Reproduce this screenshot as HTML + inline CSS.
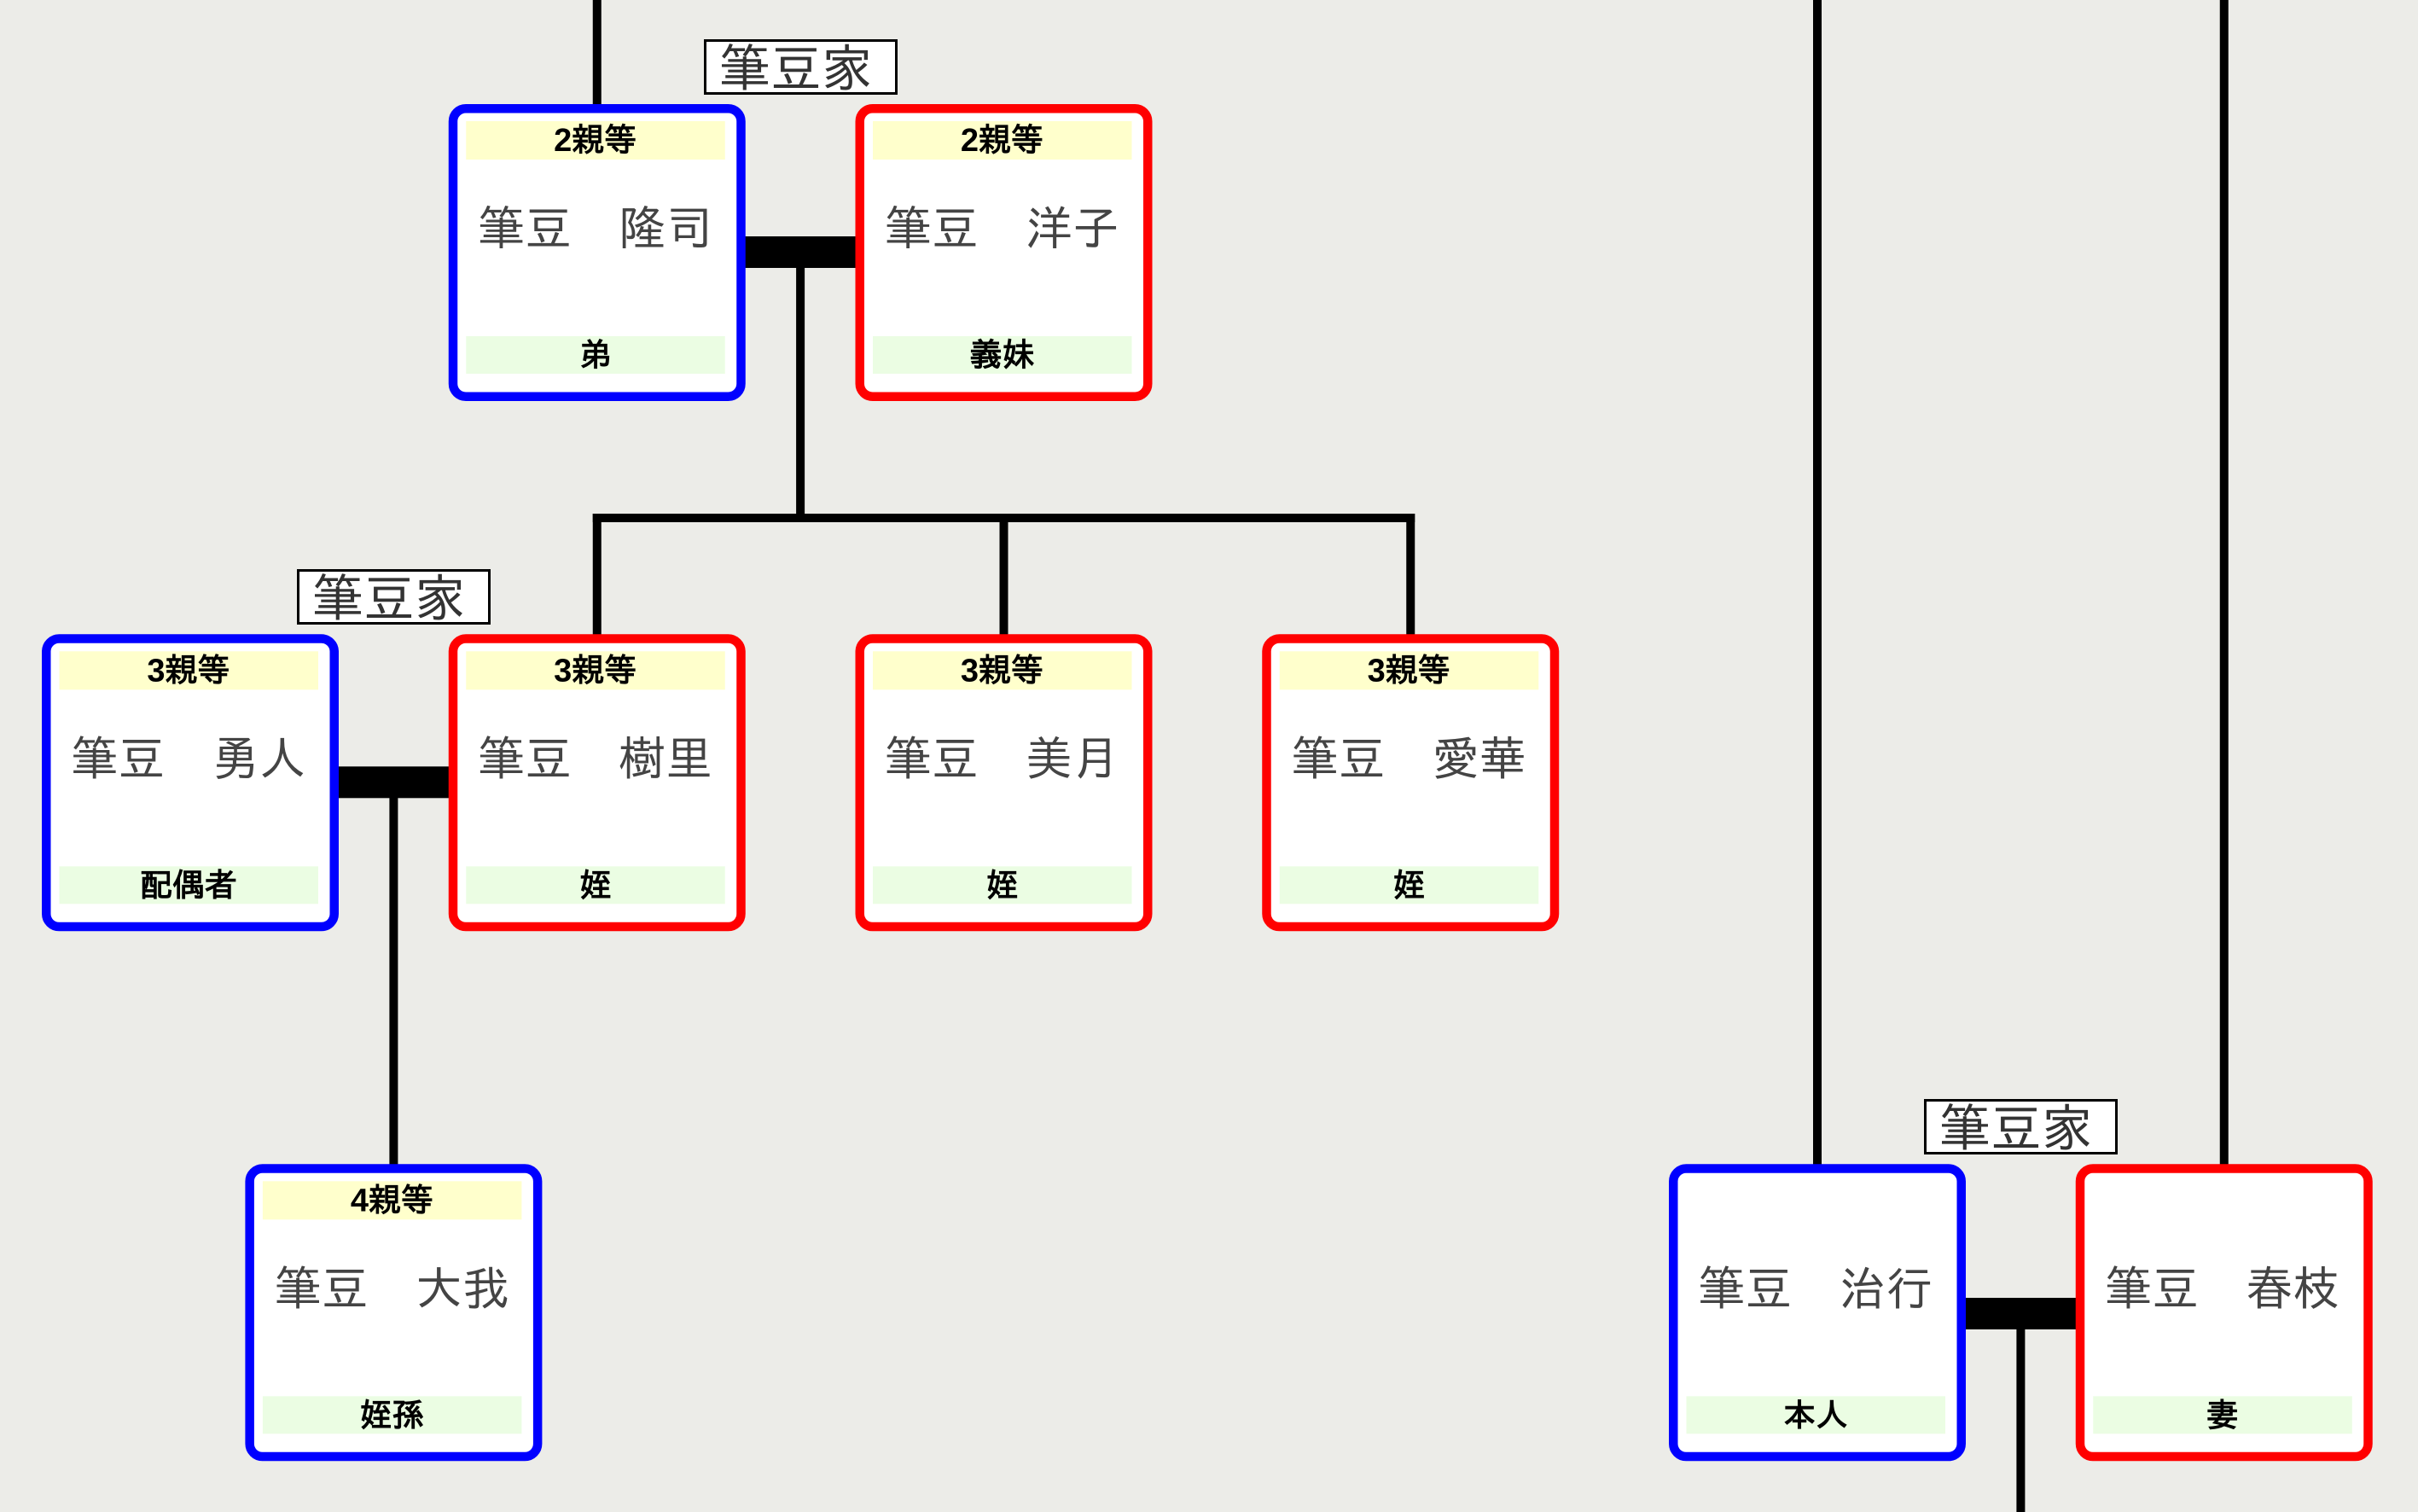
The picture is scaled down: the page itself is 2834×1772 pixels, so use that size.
<!DOCTYPE html>
<html><head><meta charset="utf-8">
<style>
html,body{margin:0;padding:0;background:#ecece8;}
svg{display:block;}
.nm{font-family:"Liberation Sans","IPAGothic","Noto Sans CJK JP",sans-serif;font-size:55px;fill:#444;}
.hd{font-family:"Liberation Sans","IPAGothic","Noto Sans CJK JP",sans-serif;font-size:38px;font-weight:bold;fill:#000;}
.lb{font-family:"Liberation Sans","IPAGothic","Noto Sans CJK JP",sans-serif;font-size:60px;fill:#333;}
</style></head>
<body>
<svg width="2834" height="1772" viewBox="0 0 2834 1772" xmlns="http://www.w3.org/2000/svg">
<rect x="0" y="0" width="2834" height="1772" fill="#ecece8"/>

<!-- connectors -->
<g fill="#000">
  <!-- row1 -->
  <rect x="694.75" y="0" width="10" height="125"/>
  <rect x="873" y="277" width="130" height="37"/>
  <rect x="933.1" y="312" width="10" height="300"/>
  <rect x="694.75" y="602" width="963.5" height="10"/>
  <rect x="694.75" y="602" width="10" height="144"/>
  <rect x="1171.5" y="602" width="10" height="144"/>
  <rect x="1648.25" y="602" width="10" height="144"/>
  <!-- row2 -->
  <rect x="396" y="898.3" width="131" height="37"/>
  <rect x="456.4" y="933" width="10" height="434"/>
  <!-- right -->
  <rect x="2125" y="0" width="10" height="1367"/>
  <rect x="2601.75" y="0" width="10" height="1367"/>
  <rect x="2303" y="1521" width="131" height="37"/>
  <rect x="2363.4" y="1556" width="10" height="216"/>
</g>

<!-- labels -->
<g>
  <rect x="826.5" y="47.5" width="224" height="62" fill="#fff" stroke="#000" stroke-width="3"/>
  <text class="lb" x="933" y="81" text-anchor="middle" dominant-baseline="central">筆豆家</text>
  <rect x="349.5" y="668.5" width="224" height="62" fill="#fff" stroke="#000" stroke-width="3"/>
  <text class="lb" x="456" y="702" text-anchor="middle" dominant-baseline="central">筆豆家</text>
  <rect x="2256.5" y="1289.5" width="224" height="62" fill="#fff" stroke="#000" stroke-width="3"/>
  <text class="lb" x="2363" y="1323" text-anchor="middle" dominant-baseline="central">筆豆家</text>
</g>

<!-- Row 1 -->
<g transform="translate(525.75,122)">
  <rect x="5.25" y="5.25" width="337.5" height="337.5" rx="15" fill="#fff" stroke="#0000ff" stroke-width="10.5"/>
  <rect x="20.5" y="20" width="303.5" height="45" fill="#ffffcc"/>
  <rect x="20.5" y="272" width="303.5" height="44" fill="#ebfde3"/>
  <text class="hd" x="172" y="43" text-anchor="middle" dominant-baseline="central">2親等</text>
  <text class="nm" x="172" y="146" text-anchor="middle" dominant-baseline="central">筆豆　隆司</text>
  <text class="hd" x="172" y="295" text-anchor="middle" dominant-baseline="central">弟</text>
</g>
<g transform="translate(1002.5,122)">
  <rect x="5.25" y="5.25" width="337.5" height="337.5" rx="15" fill="#fff" stroke="#ff0000" stroke-width="10.5"/>
  <rect x="20.5" y="20" width="303.5" height="45" fill="#ffffcc"/>
  <rect x="20.5" y="272" width="303.5" height="44" fill="#ebfde3"/>
  <text class="hd" x="172" y="43" text-anchor="middle" dominant-baseline="central">2親等</text>
  <text class="nm" x="172" y="146" text-anchor="middle" dominant-baseline="central">筆豆　洋子</text>
  <text class="hd" x="172" y="295" text-anchor="middle" dominant-baseline="central">義妹</text>
</g>

<!-- Row 2 -->
<g transform="translate(49,743.3)">
  <rect x="5.25" y="5.25" width="337.5" height="337.5" rx="15" fill="#fff" stroke="#0000ff" stroke-width="10.5"/>
  <rect x="20.5" y="20" width="303.5" height="45" fill="#ffffcc"/>
  <rect x="20.5" y="272" width="303.5" height="44" fill="#ebfde3"/>
  <text class="hd" x="172" y="43" text-anchor="middle" dominant-baseline="central">3親等</text>
  <text class="nm" x="172" y="146" text-anchor="middle" dominant-baseline="central">筆豆　勇人</text>
  <text class="hd" x="172" y="295" text-anchor="middle" dominant-baseline="central">配偶者</text>
</g>
<g transform="translate(525.75,743.3)">
  <rect x="5.25" y="5.25" width="337.5" height="337.5" rx="15" fill="#fff" stroke="#ff0000" stroke-width="10.5"/>
  <rect x="20.5" y="20" width="303.5" height="45" fill="#ffffcc"/>
  <rect x="20.5" y="272" width="303.5" height="44" fill="#ebfde3"/>
  <text class="hd" x="172" y="43" text-anchor="middle" dominant-baseline="central">3親等</text>
  <text class="nm" x="172" y="146" text-anchor="middle" dominant-baseline="central">筆豆　樹里</text>
  <text class="hd" x="172" y="295" text-anchor="middle" dominant-baseline="central">姪</text>
</g>
<g transform="translate(1002.5,743.3)">
  <rect x="5.25" y="5.25" width="337.5" height="337.5" rx="15" fill="#fff" stroke="#ff0000" stroke-width="10.5"/>
  <rect x="20.5" y="20" width="303.5" height="45" fill="#ffffcc"/>
  <rect x="20.5" y="272" width="303.5" height="44" fill="#ebfde3"/>
  <text class="hd" x="172" y="43" text-anchor="middle" dominant-baseline="central">3親等</text>
  <text class="nm" x="172" y="146" text-anchor="middle" dominant-baseline="central">筆豆　美月</text>
  <text class="hd" x="172" y="295" text-anchor="middle" dominant-baseline="central">姪</text>
</g>
<g transform="translate(1479.25,743.3)">
  <rect x="5.25" y="5.25" width="337.5" height="337.5" rx="15" fill="#fff" stroke="#ff0000" stroke-width="10.5"/>
  <rect x="20.5" y="20" width="303.5" height="45" fill="#ffffcc"/>
  <rect x="20.5" y="272" width="303.5" height="44" fill="#ebfde3"/>
  <text class="hd" x="172" y="43" text-anchor="middle" dominant-baseline="central">3親等</text>
  <text class="nm" x="172" y="146" text-anchor="middle" dominant-baseline="central">筆豆　愛華</text>
  <text class="hd" x="172" y="295" text-anchor="middle" dominant-baseline="central">姪</text>
</g>

<!-- Row 3 -->
<g transform="translate(287.4,1364.3)">
  <rect x="5.25" y="5.25" width="337.5" height="337.5" rx="15" fill="#fff" stroke="#0000ff" stroke-width="10.5"/>
  <rect x="20.5" y="20" width="303.5" height="45" fill="#ffffcc"/>
  <rect x="20.5" y="272" width="303.5" height="44" fill="#ebfde3"/>
  <text class="hd" x="172" y="43" text-anchor="middle" dominant-baseline="central">4親等</text>
  <text class="nm" x="172" y="146" text-anchor="middle" dominant-baseline="central">筆豆　大我</text>
  <text class="hd" x="172" y="295" text-anchor="middle" dominant-baseline="central">姪孫</text>
</g>
<g transform="translate(1956,1364.3)">
  <rect x="5.25" y="5.25" width="337.5" height="337.5" rx="15" fill="#fff" stroke="#0000ff" stroke-width="10.5"/>
  <rect x="20.5" y="272" width="303.5" height="44" fill="#ebfde3"/>
  <text class="nm" x="172" y="146" text-anchor="middle" dominant-baseline="central">筆豆　治行</text>
  <text class="hd" x="172" y="295" text-anchor="middle" dominant-baseline="central">本人</text>
</g>
<g transform="translate(2432.75,1364.3)">
  <rect x="5.25" y="5.25" width="337.5" height="337.5" rx="15" fill="#fff" stroke="#ff0000" stroke-width="10.5"/>
  <rect x="20.5" y="272" width="303.5" height="44" fill="#ebfde3"/>
  <text class="nm" x="172" y="146" text-anchor="middle" dominant-baseline="central">筆豆　春枝</text>
  <text class="hd" x="172" y="295" text-anchor="middle" dominant-baseline="central">妻</text>
</g>
</svg>
</body></html>
